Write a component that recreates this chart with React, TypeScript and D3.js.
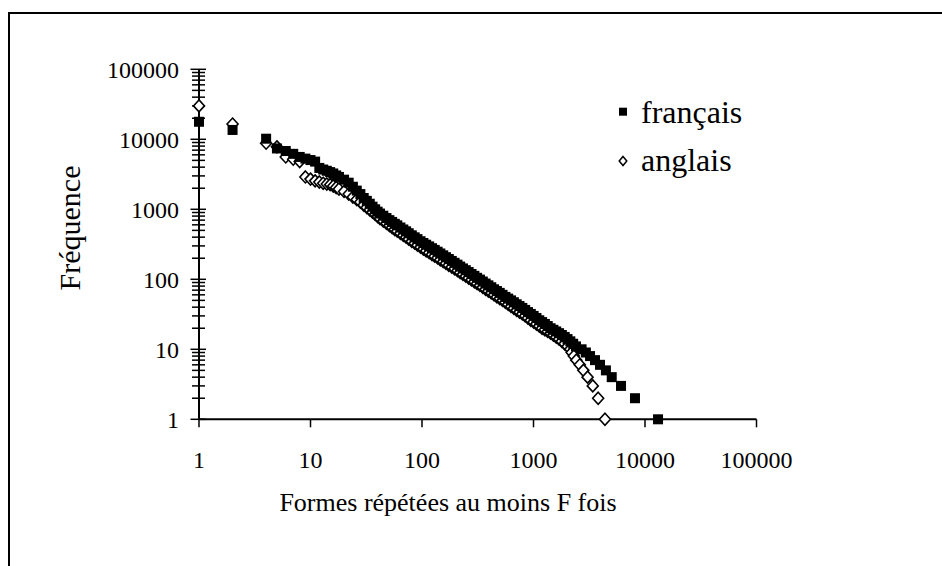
import React from 'react';
import * as d3 from 'd3';

// rangs (nombre de formes répétées au moins F fois) et fréquences F
const francaisRang = [
  1, 2, 4, 5, 6, 7, 8, 9, 10, 11, 12, 13, 14, 15, 16, 17, 18, 20, 22, 24, 26, 28,
  30, 32, 34, 36, 38, 40, 42, 45, 48, 51, 54, 57, 60, 64, 68, 72, 76, 81, 86, 91, 97,
  103, 109, 116, 123, 130, 138, 146, 155, 164, 174, 185, 196, 208, 220, 233, 247, 262, 278, 295,
  312, 331, 351, 372, 394, 418, 443, 470, 498, 528, 560, 593, 629, 667, 707, 749, 794, 842, 892, 946,
  1003, 1063, 1127, 1195, 1266, 1342, 1423, 1508, 1599, 1695, 1796, 1904, 2018, 2140, 2268, 2404,
  2700, 2950, 3215, 3560, 3950, 4460, 5030, 6095, 8130, 13090,
];
const francaisFreq = [
  17800, 13600, 10200, 7400, 6800, 6200, 5600, 5300, 5050, 4800, 3900, 3700, 3550, 3400, 3250, 3050, 2900, 2650, 2400, 2100, 1850, 1650,
  1450, 1320, 1200, 1090, 1000, 925, 870, 810, 750, 700, 660, 620, 590, 550, 515, 485, 455, 425, 398, 375, 350,
  330, 312, 295, 278, 263, 248, 234, 220, 207, 195, 183, 172, 162, 152, 143, 135, 127, 119, 112,
  105, 99, 93, 87, 82, 77, 72, 68, 64, 60, 56, 53, 50, 47, 44, 41.5, 39, 36.5, 34, 32,
  30, 28, 26, 24.5, 23, 21.5, 20, 19, 18, 17, 16, 15, 14, 13, 12, 11,
  10, 9, 8, 7, 6, 5, 4, 3, 2, 1,
];

const anglaisRang = [
  1, 2, 4, 5, 6, 7, 8, 9, 10, 11, 12, 13, 14, 15, 16, 17, 18, 20, 22, 24, 26, 28,
  30, 32, 34, 36, 38, 40, 42, 45, 48, 51, 54, 57, 60, 64, 68, 72, 76, 81, 86, 91, 97,
  103, 109, 116, 123, 130, 138, 146, 155, 164, 174, 185, 196, 208, 220, 233, 247, 262, 278, 295,
  312, 331, 351, 372, 394, 418, 443, 470, 498, 528, 560, 593, 629, 667, 707, 749, 794, 842, 892, 946,
  1003, 1063, 1127, 1195, 1266, 1342, 1423, 1508, 1599, 1695, 1796, 1904, 2018, 2140,
  2200, 2300, 2420, 2600, 2800, 3055, 3400, 3800, 4375,
];
const anglaisFreq = [
  30000, 16500, 8800, 7800, 5600, 5200, 4800, 2900, 2700, 2550, 2450, 2350, 2300, 2250, 2150, 2050, 1950, 1800, 1650, 1500, 1380, 1270,
  1150, 1060, 980, 910, 850, 790, 740, 680, 630, 585, 550, 515, 490, 455, 425, 400, 375, 350, 328, 308, 288,
  270, 255, 240, 226, 214, 202, 190, 179, 169, 159, 150, 141, 133, 125, 118, 111, 104, 98, 92,
  87, 82, 77, 72, 68, 64, 60, 56, 53, 50, 47, 44, 41, 38.5, 36, 34, 32, 30, 28, 26,
  24.5, 23, 21.5, 20, 19, 18, 17, 16, 15, 14, 13, 12, 11, 10,
  9, 8, 7, 6, 5, 4, 3, 2, 1,
];

const xTicks = [1, 10, 100, 1000, 10000, 100000];
const yTicks = [1, 10, 100, 1000, 10000, 100000];
const legendLabels = ['français', 'anglais'];

const font = '"Liberation Serif", "Times New Roman", serif';

const diamond = (cx: number, cy: number, w: number, h: number) =>
  `M${cx},${cy - h}L${cx + w},${cy}L${cx},${cy + h}L${cx - w},${cy}Z`;

export default function App() {
  const x = d3.scaleLog().domain([1, 100000]).range([199, 756.5]);
  const y = d3.scaleLog().domain([1, 100000]).range([419.3, 69.3]);
  const isMajor = (v: number) => Math.abs(Math.log10(v) - Math.round(Math.log10(v))) < 1e-9;

  return (
    <svg width={942} height={566} style={{ position: 'absolute', left: 0, top: 0, display: 'block' }}>
      <rect x={0} y={0} width={942} height={566} fill="#fff" />
      <rect x={9} y={13} width={1000} height={600} fill="none" stroke="#000" strokeWidth={2} />

      {/* axe Y */}
      <line x1={x(1)} x2={x(1)} y1={y(100000)} y2={y(1)} stroke="#000" strokeWidth={2} />
      {y.ticks().map((v, i) => (
        <line key={'yt' + i} x1={x(1) - (isMajor(v) ? 8.5 : 7)} x2={x(1) + (isMajor(v) ? 7 : 6)}
          y1={y(v)} y2={y(v)} stroke="#000" strokeWidth={1.5} />
      ))}
      {yTicks.map((v) => (
        <text key={'yl' + v} x={179} y={y(v) + 9} textAnchor="end" fontFamily={font} fontSize={24}>{v}</text>
      ))}

      {/* axe X */}
      <line x1={x(1)} x2={x(100000)} y1={y(1)} y2={y(1)} stroke="#000" strokeWidth={2} />
      {xTicks.map((v) => (
        <line key={'xt' + v} x1={x(v)} x2={x(v)} y1={y(1)} y2={y(1) + 8} stroke="#000" strokeWidth={1.5} />
      ))}
      {xTicks.map((v) => (
        <text key={'xl' + v} x={x(v)} y={468} textAnchor="middle" fontFamily={font} fontSize={24}>{v}</text>
      ))}

      <text x={448} y={511} textAnchor="middle" fontFamily={font} fontSize={26}>Formes répétées au moins F fois</text>
      <text transform="translate(80,228) rotate(-90)" textAnchor="middle" fontFamily={font} fontSize={30}>Fréquence</text>

      {/* séries */}
      <g>
        {anglaisRang.map((r, i) => (
          <path key={'a' + i} d={diamond(x(r), y(anglaisFreq[i]), 5.5, 6)} fill="#fff" stroke="#000" strokeWidth={1.6} />
        ))}
      </g>
      <g>
        {francaisRang.map((r, i) => (
          <rect key={'f' + i} x={x(r) - 5} y={y(francaisFreq[i]) - 5} width={10} height={10} fill="#000" />
        ))}
      </g>

      {/* légende */}
      <rect x={619} y={107.7} width={8} height={8} fill="#000" />
      <text x={641} y={123} fontFamily={font} fontSize={32}>{legendLabels[0]}</text>
      <path d={diamond(623, 161, 3.8, 4.5)} fill="#fff" stroke="#000" strokeWidth={1.5} />
      <text x={641} y={170.5} fontFamily={font} fontSize={32}>{legendLabels[1]}</text>
    </svg>
  );
}
